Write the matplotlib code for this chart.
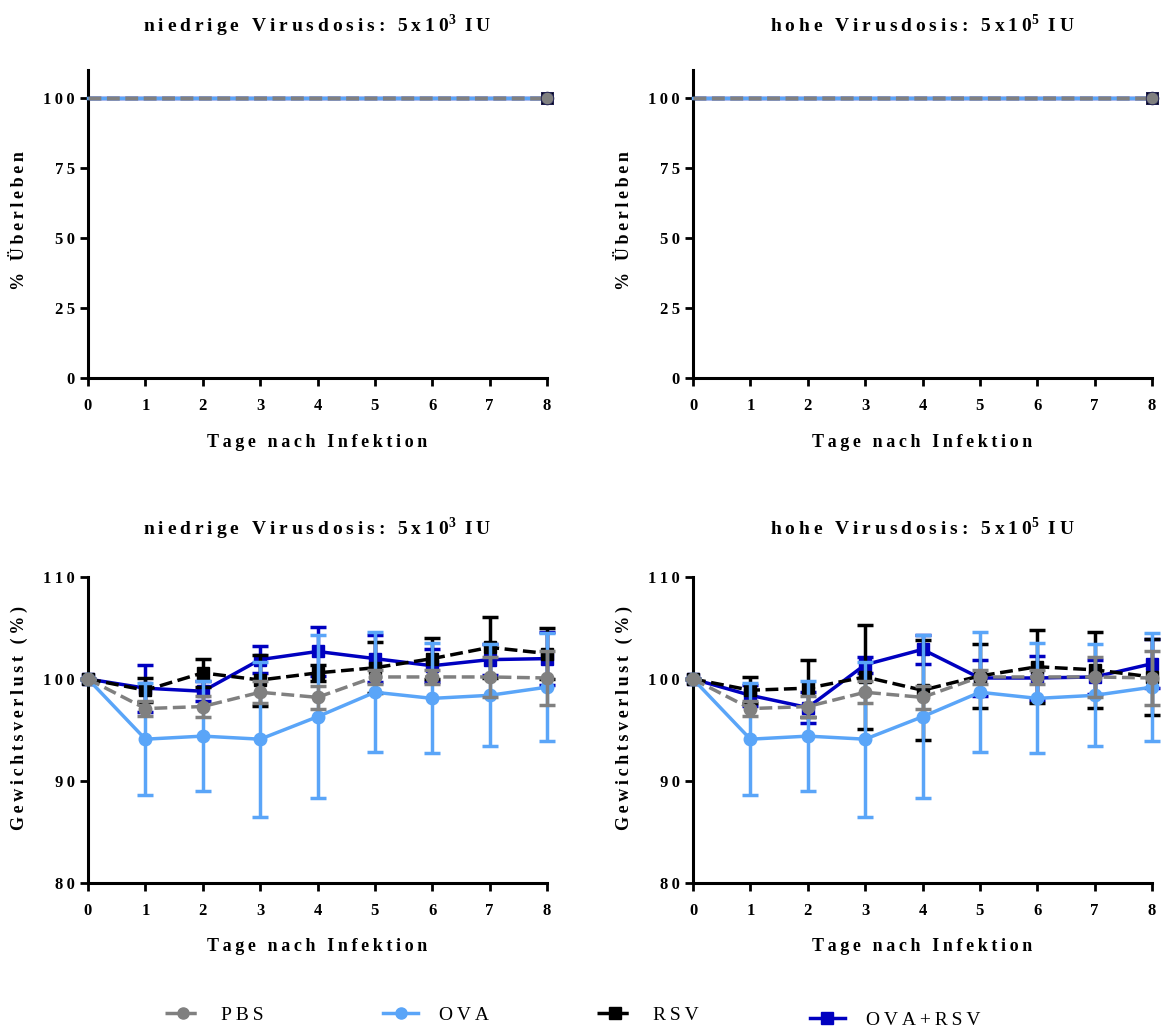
import numpy as np
import matplotlib.pyplot as plt
from matplotlib.lines import Line2D

plt.rcParams['font.family'] = ['Liberation Serif', 'DejaVu Serif']
plt.rcParams['font.weight'] = 'bold'
plt.rcParams['mathtext.fontset'] = 'custom'
plt.rcParams['mathtext.rm'] = 'Liberation Serif:bold'
plt.rcParams['mathtext.bf'] = 'Liberation Serif:bold'

# Daten
days = [0, 1, 2, 3, 4, 5, 6, 7, 8]
groups = ['PBS', 'OVA', 'RSV', 'OVA+RSV']

# Überleben (%) - alle Gruppen 100 %
survival = [100, 100, 100, 100, 100, 100, 100, 100, 100]

# Gewicht (%) niedrige Dosis
low_mean = {
    'PBS':     [100, 97.1, 97.3, 98.7, 98.2, 100.2, 100.2, 100.2, 100.1],
    'OVA':     [100, 94.1, 94.4, 94.1, 96.3, 98.7, 98.1, 98.4, 99.2],
    'RSV':     [100, 98.9, 100.6, 99.9, 100.6, 101.1, 102.0, 103.1, 102.5],
    'OVA+RSV': [100, 99.1, 98.8, 101.9, 102.7, 102.0, 101.3, 101.9, 102.0],
}
low_sd = {
    'PBS':     [0, 0.75, 1.0, 1.1, 1.1, 0.65, 0.7, 2.0, 2.6],
    'OVA':     [0, 5.5, 5.4, 7.6, 8.0, 5.9, 5.4, 5.0, 5.3],
    'RSV':     [0, 1.2, 1.4, 2.5, 0.8, 2.5, 2.0, 3.0, 2.5],
    'OVA+RSV': [0, 2.3, 1.0, 1.3, 2.4, 2.3, 1.6, 1.5, 2.6],
}
# Gewicht (%) hohe Dosis
high_mean = {
    'PBS':     [100, 97.1, 97.3, 98.7, 98.2, 100.2, 100.2, 100.2, 100.1],
    'OVA':     [100, 94.1, 94.4, 94.1, 96.3, 98.7, 98.1, 98.4, 99.2],
    'RSV':     [100, 98.9, 99.1, 100.2, 98.9, 100.3, 101.2, 100.9, 100.2],
    'OVA+RSV': [100, 98.4, 97.2, 101.4, 102.9, 100.1, 100.1, 100.2, 101.5],
}
high_sd = {
    'PBS':     [0, 0.75, 1.0, 1.1, 1.1, 0.65, 0.7, 2.0, 2.6],
    'OVA':     [0, 5.5, 5.4, 7.6, 8.0, 5.9, 5.4, 5.0, 5.3],
    'RSV':     [0, 1.3, 2.8, 5.1, 4.9, 3.1, 3.6, 3.7, 3.7],
    'OVA+RSV': [0, 1.0, 1.5, 0.8, 1.4, 1.8, 2.2, 1.7, 2.4],
}

styles = {
    'PBS':     dict(color='#808080', ls='--', marker='o', z=4),
    'OVA':     dict(color='#5AA5F8', ls='-', marker='o', z=3),
    'RSV':     dict(color='black', ls='--', marker='s', z=2),
    'OVA+RSV': dict(color='#0000C0', ls='-', marker='s', z=1),
}


def sp(s):
    # gesperrter Text wie im Original
    return '\u2009'.join(s)


fig = plt.figure(figsize=(11.62, 10.30), dpi=100)
W, H = 1162, 1030


def make_ax(x0, x1, ytop, ybot):
    return fig.add_axes([x0 / W, 1 - ybot / H, (x1 - x0) / W, (ybot - ytop) / H])


ax_tl = make_ax(88, 547, 70, 378)
ax_tr = make_ax(693, 1152, 70, 378)
ax_bl = make_ax(88, 547, 577, 883)
ax_br = make_ax(693, 1152, 577, 883)

title_low = sp('niedrige Virusdosis: 5x10') + '$^{3}$\u2009 ' + sp('IU')
title_high = sp('hohe Virusdosis: 5x10') + '$^{5}$\u2009 ' + sp('IU')


def style_ax(ax, yticks):
    for s in ['top', 'right']:
        ax.spines[s].set_visible(False)
    for s in ['left', 'bottom']:
        ax.spines[s].set_linewidth(2.2)
    ax.tick_params(width=2, length=5.5, labelsize=12)
    ax.tick_params(axis='x', pad=9)
    ax.tick_params(axis='y', pad=4)
    ax.set_xlim(0, 8)
    ax.set_xticks(days)
    ax.set_xticklabels([sp(str(d)) for d in days])
    ax.set_yticks(yticks)
    ax.set_yticklabels([sp(str(t)) for t in yticks])
    ax.set_xlabel(sp('Tage nach Infektion'), fontsize=13, fontweight='bold')


for ax, title in [(ax_tl, title_low), (ax_tr, title_high)]:
    for g in reversed(groups):
        st = styles[g]
        ax.plot(days, survival, color=st['color'], ls=st['ls'], lw=2.5,
                marker=st['marker'], markevery=[len(days) - 1], ms=9,
                markeredgecolor='#202050', markeredgewidth=0.6,
                zorder=st['z'], clip_on=False)
    ax.set_ylim(0, 110)
    style_ax(ax, [0, 25, 50, 75, 100])
    ax.xaxis.set_label_coords(0.5, -0.182)
    ax.set_ylabel(sp('% Überleben'), fontsize=13, fontweight='bold')
    ax.yaxis.set_label_coords(-0.131, 0.51)
    ax.set_title(title, fontsize=14, fontweight='bold', pad=27)

for ax, title, means, sds in [(ax_bl, title_low, low_mean, low_sd),
                              (ax_br, title_high, high_mean, high_sd)]:
    for g in reversed(groups):
        st = styles[g]
        ax.errorbar(days, means[g], yerr=sds[g], color=st['color'], ls=st['ls'],
                    lw=2.5, marker=st['marker'], ms=9, capsize=6, capthick=2.5,
                    elinewidth=2.5, zorder=st['z'], clip_on=False)
    ax.set_ylim(80, 110)
    style_ax(ax, [80, 90, 100, 110])
    ax.xaxis.set_label_coords(0.5, -0.18)
    ax.set_ylabel(sp('Gewichtsverlust (%)'), fontsize=13, fontweight='bold')
    ax.yaxis.set_label_coords(-0.131, 0.54)
    ax.set_title(title, fontsize=14, fontweight='bold', pad=30)

# Legende: vier Einträge in festen Abständen
legend_x = [165, 383, 597, 810]
legend_y = [1015, 1015, 1015, 1020]
for g, lx, ly in zip(groups, legend_x, legend_y):
    st = styles[g]
    h = Line2D([0], [0], color=st['color'], ls=st['ls'], lw=2.5,
               marker=st['marker'], ms=8)
    fig.legend([h], [sp(g)], loc='center left', bbox_to_anchor=(lx / W, 1 - ly / H),
               frameon=False, borderpad=0, borderaxespad=0, handlelength=1.8,
               handletextpad=1.1, prop=dict(family='Liberation Serif', size=14, weight='normal'))

fig.savefig('out.png', dpi=100)
